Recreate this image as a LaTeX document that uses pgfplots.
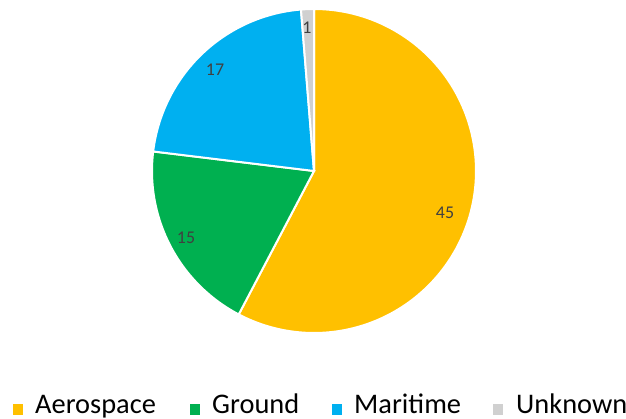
\documentclass[border=0pt]{standalone}
\usepackage{fontspec}
\setmainfont{Carlito}
\usepackage{pgfplots}
\usepackage{pgfplotstable}
\pgfplotsset{compat=1.18}
\definecolor{aero}{HTML}{FFC000}
\definecolor{ground}{HTML}{00B050}
\definecolor{mari}{HTML}{00B0F0}
\definecolor{unk}{HTML}{D0D0D0}
\definecolor{lbl}{HTML}{404040}
\pgfplotstableread{
cat value
Aerospace 45
Ground 15
Maritime 17
Unknown 1
}\piedata
\pgfplotstablegetelem{0}{value}\of\piedata \let\vA\pgfplotsretval
\pgfplotstablegetelem{1}{value}\of\piedata \let\vB\pgfplotsretval
\pgfplotstablegetelem{2}{value}\of\piedata \let\vC\pgfplotsretval
\pgfplotstablegetelem{3}{value}\of\piedata \let\vD\pgfplotsretval
\pgfmathsetmacro\tot{\vA+\vB+\vC+\vD}
\pgfmathsetmacro\aA{90}
\pgfmathsetmacro\aB{\aA-360*\vA/\tot}
\pgfmathsetmacro\aC{\aB-360*\vB/\tot}
\pgfmathsetmacro\aD{\aC-360*\vC/\tot}
\pgfmathsetmacro\aE{\aD-360*\vD/\tot}
\def\R{162}
\begin{document}
\begin{tikzpicture}
\begin{axis}[
  width=626bp, height=419bp, scale only axis,
  xmin=-314, xmax=312, ymin=-248, ymax=171,
  hide axis, clip=false,
]
\addplot[fill=aero, draw=white, line width=2bp, domain=\aB:\aA, samples=120, variable=\t] ({\R*cos(t)},{\R*sin(t)}) -- (0,0) -- cycle;
\addplot[fill=ground, draw=white, line width=2bp, domain=\aC:\aB, samples=60, variable=\t] ({\R*cos(t)},{\R*sin(t)}) -- (0,0) -- cycle;
\addplot[fill=mari, draw=white, line width=2bp, domain=\aD:\aC, samples=60, variable=\t] ({\R*cos(t)},{\R*sin(t)}) -- (0,0) -- cycle;
\addplot[fill=unk, draw=white, line width=2bp, domain=\aE:\aD, samples=10, variable=\t] ({\R*cos(t)},{\R*sin(t)}) -- (0,0) -- cycle;
\begin{scope}[every node/.style={font=\fontsize{18}{20}\selectfont, text=lbl, inner sep=0pt}]
\node at (131,-42) {\vA};
\node at (-128,-67) {\vB};
\node at (-99,101) {\vC};
\node at (-7,143) {\vD};
\end{scope}
\begin{scope}[every node/.style={font=\fontsize{28.5}{30}\selectfont, inner sep=0pt, anchor=base west}]
\fill[aero] (-301,-233) rectangle (-291,-244);
\node at (-279,-243) {Aerospace};
\fill[ground] (-124,-233) rectangle (-114,-244);
\node at (-102,-243) {Ground};
\fill[mari] (18,-233) rectangle (28,-244);
\node at (40,-243) {Maritime};
\fill[unk] (179,-233) rectangle (189,-244);
\node at (202,-243) {Unknown};
\end{scope}
\end{axis}
\pgfresetboundingbox
\path[use as bounding box] (0,0) rectangle (626bp,419bp);
\end{tikzpicture}
\end{document}
